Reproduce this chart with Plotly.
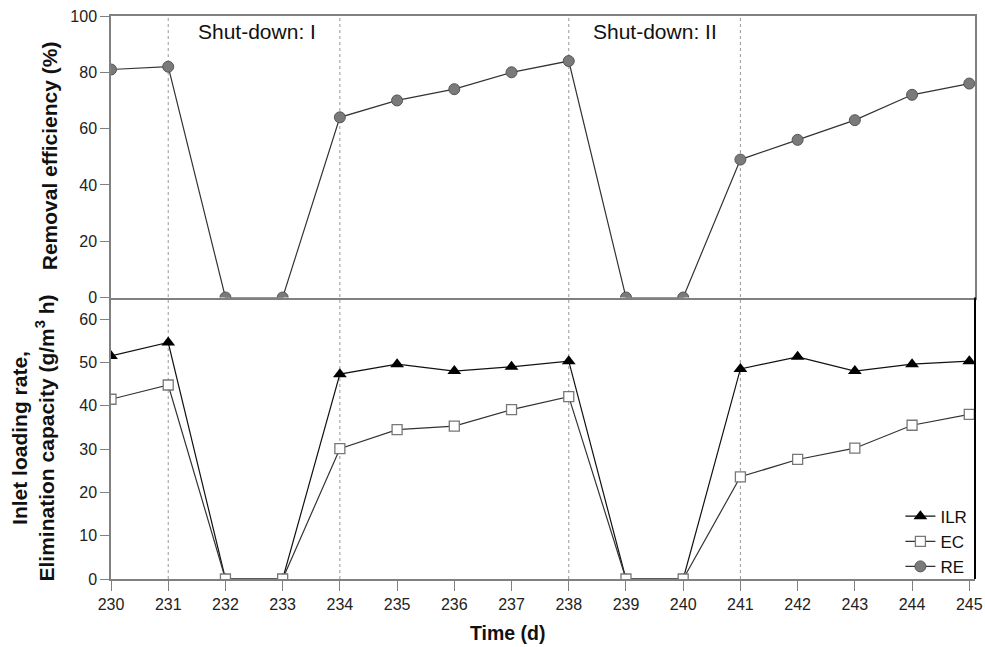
import plotly.graph_objects as go
from plotly.subplots import make_subplots

# Operating days
days = list(range(230, 246))

# Removal efficiency (%)
re_vals = [81, 82, 0, 0, 64, 70, 74, 80, 84, 0, 0, 49, 56, 63, 72, 76]
# Inlet loading rate (g/m3 h)
ilr_vals = [51.5, 54.6, 0, 0, 47.3, 49.6, 48.0, 49.0, 50.3, 0, 0, 48.5, 51.3, 48.0, 49.6, 50.3]
# Elimination capacity (g/m3 h)
ec_vals = [41.5, 44.8, 0, 0, 30.1, 34.5, 35.3, 39.1, 42.1, 0, 0, 23.6, 27.6, 30.2, 35.5, 38.0]

# Days marking shut-down / restart events
event_days = [231, 234, 238, 241]
x_ticks = days

FONT = "Liberation Sans, Arial, sans-serif"
AXIS_GRAY = "#808080"
LINE_DARK = "#333333"

fig = make_subplots(rows=2, cols=1, shared_xaxes=True, vertical_spacing=0.0)

fig.add_trace(go.Scatter(
    x=days, y=ilr_vals, name="ILR", mode="lines+markers", cliponaxis=True,
    line=dict(color="#111111", width=1.2),
    marker=dict(symbol="triangle-up", size=12, color="black", line=dict(color="black", width=0)),
), row=2, col=1)

fig.add_trace(go.Scatter(
    x=days, y=ec_vals, name="EC", mode="lines+markers", cliponaxis=True,
    line=dict(color=LINE_DARK, width=1.2),
    marker=dict(symbol="square", size=10, color="white", line=dict(color="#777777", width=1.3)),
), row=2, col=1)

fig.add_trace(go.Scatter(
    x=days, y=re_vals, name="RE", mode="lines+markers", cliponaxis=True,
    line=dict(color=LINE_DARK, width=1.2),
    marker=dict(symbol="circle", size=11, color="#7a7a7a", line=dict(color="#555555", width=1)),
), row=1, col=1)

axis_common = dict(
    showline=True, linecolor=AXIS_GRAY, linewidth=1.5,
    showgrid=False, zeroline=False, automargin=False,
    tickfont=dict(family=FONT, size=16, color="#222222"),
)

fig.update_xaxes(range=[230, 245.1], tickvals=x_ticks, **axis_common)
fig.update_xaxes(row=1, col=1, showticklabels=False, ticks="", mirror=True)
fig.update_xaxes(row=2, col=1, ticks="outside", ticklen=10, tickwidth=1.3, tickcolor=AXIS_GRAY,
                 ticklabeloverflow="allow")

fig.update_yaxes(**axis_common, ticks="outside", ticklen=9, tickwidth=1.3, tickcolor=AXIS_GRAY)
fig.update_yaxes(row=1, col=1, range=[0, 100], tickvals=[0, 20, 40, 60, 80, 100], mirror=True)
fig.update_yaxes(row=2, col=1, range=[0, 65], tickvals=[0, 10, 20, 30, 40, 50, 60])

# Dotted markers for shut-down and restart days across both panels
for d in event_days:
    fig.add_shape(type="line", x0=d, x1=d, y0=0, y1=1, xref="x2", yref="paper",
                  line=dict(color="#999999", width=1, dash="dot"), layer="below")

# Right border of the lower panel
fig.add_shape(type="line", x0=1, x1=1, y0=0, y1=0.5, xref="paper", yref="paper",
              line=dict(color="black", width=2))

annots = [
    dict(text="Shut-down: I", x=232.55, y=94.5, xref="x", yref="y",
         font=dict(family=FONT, size=21, color="#111111"), showarrow=False),
    dict(text="Shut-down: II", x=239.5, y=94.5, xref="x", yref="y",
         font=dict(family=FONT, size=21, color="#111111"), showarrow=False),
    dict(text="<b>Removal efficiency (%)</b>", textangle=-90,
         x=-0.071, y=0.752, xref="paper", yref="paper", xanchor="center", yanchor="middle",
         font=dict(family=FONT, size=21, color="#111111"), showarrow=False),
    dict(text="<b>Inlet loading rate,<br>Elimination capacity (g/m<sup>3</sup> h)</b>", textangle=-90,
         x=-0.09, y=0.25, xref="paper", yref="paper", xanchor="center", yanchor="middle",
         font=dict(family=FONT, size=21, color="#111111"), showarrow=False),
    dict(text="<b>Time (d)</b>", x=0.459, y=-0.096, xref="paper", yref="paper",
         xanchor="center", yanchor="middle",
         font=dict(family=FONT, size=19.5, color="#111111"), showarrow=False),
]
fig.update_layout(annotations=annots)

fig.update_layout(
    width=985, height=647,
    margin=dict(l=111, r=10, t=16, b=68, autoexpand=False),
    paper_bgcolor="white", plot_bgcolor="white",
    font=dict(family=FONT),
    showlegend=True,
    legend=dict(x=0.997, y=-0.01, xanchor="right", yanchor="bottom",
                bgcolor="rgba(0,0,0,0)", font=dict(family=FONT, size=17, color="#111111"),
                itemwidth=30, tracegroupgap=0),
)

fig.write_html("out.html")
